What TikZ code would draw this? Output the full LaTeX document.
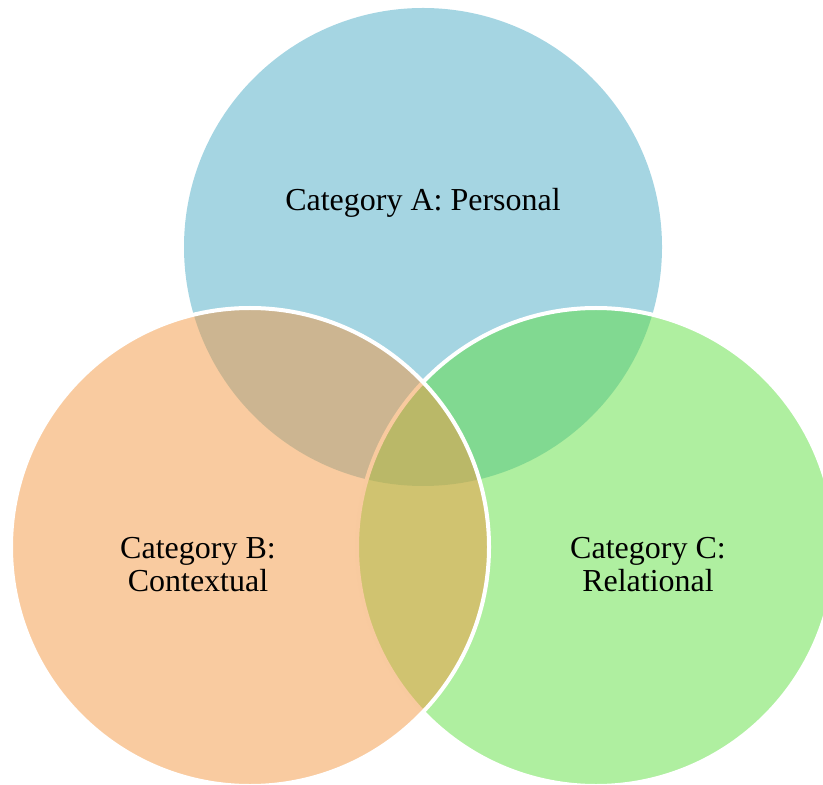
\documentclass[tikz,border=0pt]{standalone}
\usepackage{fontspec}
\setmainfont{Liberation Serif}
\usetikzlibrary{positioning}

\definecolor{personalblue}{RGB}{75,171,197}
\definecolor{contextorange}{RGB}{243,151,65}
\definecolor{relationgreen}{RGB}{95,223,65}

\begin{document}
\begin{tikzpicture}[x=0.5pt,y=-0.5pt,
    venn/.style={circle, minimum size=239pt, inner sep=0pt, fill opacity=0.5},
    rim/.style={draw=white, line width=2pt},
    lbl/.style={align=center, font=\fontsize{16}{16.5}\selectfont}]
    \useasboundingbox (0,0) rectangle (823,785);
    % the three sets, orange one on top
    \node[venn, fill=personalblue] (personal) at (423,247) {};
    \node[venn, rim, fill=relationgreen] (relational) at (596,547) {};
    \node[venn, rim, fill=contextorange] (contextual) at (250,547) {};
    % set names
    \node[lbl] (namePersonal) at (423,203) {Category A: Personal};
    \node[lbl] (nameContextual) at (198,565) {Category B:\\Contextual};
    \node[lbl] (nameRelational) at (648,565) {Category C:\\Relational};
\end{tikzpicture}
\end{document}
